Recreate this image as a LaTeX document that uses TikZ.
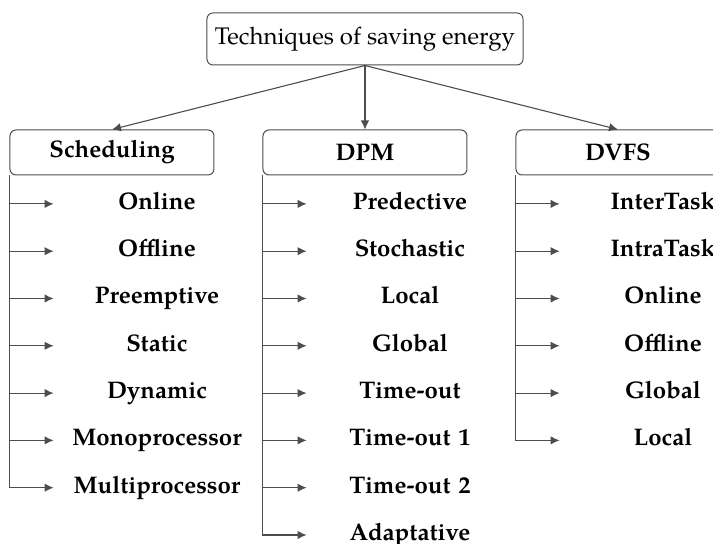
\documentclass[tikz,border=0pt,12pt]{standalone}
\usepackage{fontspec}
\setmainfont{TeX Gyre Pagella}
\usetikzlibrary{arrows.meta,positioning}
\definecolor{lineGray}{RGB}{77,77,77}

\begin{document}
\begin{tikzpicture}[node distance=4.75pt,
    box/.style={draw=lineGray,rounded corners=3pt,line width=0.5pt,align=center},
    cat/.style={box,minimum width=102pt,minimum height=22.5pt,font=\bfseries},
    item/.style={text width=97pt,inner sep=3pt,align=center,
                 text height=9pt,text depth=3.5pt,font=\bfseries},
    ar/.style={-{Latex[length=4.5pt,width=4.2pt]},lineGray,line width=0.55pt}]

    \useasboundingbox (-182.5pt,19.5pt) rectangle (174pt,-252.5pt);

    \node[box,minimum width=158pt,minimum height=26pt] (root)
      {Techniques of saving energy};
    \node[cat,below=32pt of root] (dpm) {DPM};
    \node[cat,left=24pt of dpm] (sched) {Scheduling};
    \node[cat,right=24pt of dpm] (dvfs) {DVFS};

    \draw[ar] (root.south) -- (sched.north);
    \draw[ar] (root.south) -- (dpm.north);
    \draw[ar] (root.south) -- (dvfs.north);

    % scheduling
    \node[item,below=of sched,xshift=22.5pt] (sOnline) {Online};
    \node[item,below=of sOnline] (sOffline) {Offline};
    \node[item,below=of sOffline] (sPreempt) {Preemptive};
    \node[item,below=of sPreempt] (sStatic) {Static};
    \node[item,below=of sStatic] (sDynamic) {Dynamic};
    \node[item,below=of sDynamic] (sMono) {Monoprocessor};
    \node[item,below=of sMono] (sMulti) {Multiprocessor};

    \draw[ar] (sched.south west) |- (sOnline.west);
    \draw[ar] (sched.south west) |- (sOffline.west);
    \draw[ar] (sched.south west) |- (sPreempt.west);
    \draw[ar] (sched.south west) |- (sStatic.west);
    \draw[ar] (sched.south west) |- (sDynamic.west);
    \draw[ar] (sched.south west) |- (sMono.west);
    \draw[ar] (sched.south west) |- (sMulti.west);

    % dpm
    \node[item,below=of dpm,xshift=22.5pt] (dPred) {Predective};
    \node[item,below=of dPred] (dStoch) {Stochastic};
    \node[item,below=of dStoch] (dLocal) {Local};
    \node[item,below=of dLocal] (dGlobal) {Global};
    \node[item,below=of dGlobal] (dTimeout) {Time-out};
    \node[item,below=of dTimeout] (dTimeoutA) {Time-out 1};
    \node[item,below=of dTimeoutA] (dTimeoutB) {Time-out 2};
    \node[item,below=of dTimeoutB] (dAdapt) {Adaptative};

    \draw[ar] (dpm.south west) |- (dPred.west);
    \draw[ar] (dpm.south west) |- (dStoch.west);
    \draw[ar] (dpm.south west) |- (dLocal.west);
    \draw[ar] (dpm.south west) |- (dGlobal.west);
    \draw[ar] (dpm.south west) |- (dTimeout.west);
    \draw[ar] (dpm.south west) |- (dTimeoutA.west);
    \draw[ar] (dpm.south west) |- (dTimeoutB.west);
    \draw[ar] (dpm.south west) |- (dAdapt.west);

    % dvfs
    \node[item,below=of dvfs,xshift=22.5pt] (vInter) {InterTask};
    \node[item,below=of vInter] (vIntra) {IntraTask};
    \node[item,below=of vIntra] (vOnline) {Online};
    \node[item,below=of vOnline] (vOffline) {Offline};
    \node[item,below=of vOffline] (vGlobal) {Global};
    \node[item,below=of vGlobal] (vLocal) {Local};

    \draw[ar] (dvfs.south west) |- (vInter.west);
    \draw[ar] (dvfs.south west) |- (vIntra.west);
    \draw[ar] (dvfs.south west) |- (vOnline.west);
    \draw[ar] (dvfs.south west) |- (vOffline.west);
    \draw[ar] (dvfs.south west) |- (vGlobal.west);
    \draw[ar] (dvfs.south west) |- (vLocal.west);
  \end{tikzpicture}
\end{document}
